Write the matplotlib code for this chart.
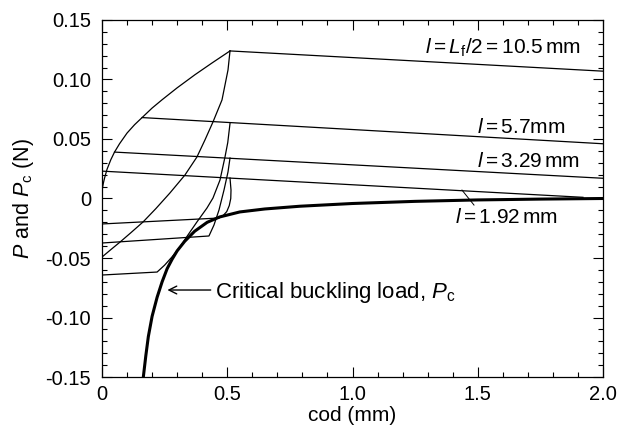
import matplotlib
matplotlib.use("Agg")
import matplotlib.pyplot as plt
from matplotlib.ticker import MultipleLocator

plt.rcParams['font.family'] = ['Liberation Sans', 'DejaVu Sans']
plt.rcParams['mathtext.fontset'] = 'custom'
plt.rcParams['mathtext.rm'] = 'Liberation Sans'
plt.rcParams['mathtext.it'] = 'Liberation Sans:italic'
plt.rcParams['mathtext.bf'] = 'Liberation Sans:bold'

# ---- data (cod in mm, load in N) ----
env_cod = [0.0, 0.002, 0.005, 0.01, 0.02, 0.035, 0.05, 0.07, 0.10, 0.13, 0.16, 0.20, 0.24,
           0.30, 0.371, 0.44, 0.511]
env_P = [0.006, 0.009, 0.0125, 0.017, 0.0245, 0.0325, 0.039, 0.046, 0.055, 0.062, 0.068,
         0.076, 0.083, 0.093, 0.104, 0.114, 0.124]

line105_cod = [0.511, 2.0]
line105_P = [0.124, 0.107]
line57_cod = [0.160, 2.0]
line57_P = [0.068, 0.046]
line329_cod = [0.050, 2.0]
line329_P = [0.039, 0.017]
line192_cod = [0.0, 1.92]
line192_P = [0.023, 0.001]

unl105_cod = [0.511, 0.503, 0.479, 0.443, 0.411, 0.379, 0.331, 0.271, 0.215, 0.164, 0.115, 0.072, 0.035, 0.0]
unl105_P = [0.124, 0.108, 0.0828, 0.0643, 0.0492, 0.0349, 0.0197, 0.0046, -0.0085, -0.0197,
            -0.0288, -0.0366, -0.0430, -0.0492]

unl57_cod = [0.511, 0.502, 0.491, 0.471, 0.443, 0.419, 0.379, 0.343, 0.311, 0.279, 0.250, 0.220, 0.0]
unl57_P = [0.063, 0.047, 0.0349, 0.0155, 0.0004, -0.0080, -0.0197, -0.0307, -0.0408, -0.0492,
           -0.0560, -0.0618, -0.0643]

unl329_cod = [0.511, 0.503, 0.487, 0.467, 0.447, 0.427, 0.0]
unl329_P = [0.034, 0.0223, 0.0071, -0.0097, -0.0223, -0.0315, -0.0374]

unl192_cod = [0.511, 0.515, 0.514, 0.508, 0.498, 0.485, 0.467, 0.0]
unl192_P = [0.0172, 0.0071, 0.0, -0.0060, -0.0110, -0.0140, -0.0164, -0.0214]

pc_cod = [0.165, 0.175, 0.185, 0.20, 0.22, 0.24, 0.26, 0.28, 0.30, 0.33, 0.37, 0.42, 0.47,
          0.55, 0.65, 0.79, 1.0, 1.25, 1.5, 1.75, 2.0]
pc_P = [-0.150, -0.132, -0.116, -0.099, -0.083, -0.070, -0.059, -0.051, -0.044, -0.036,
        -0.0275, -0.020, -0.0155, -0.0113, -0.0088, -0.0065, -0.0042, -0.0024, -0.0012,
        -0.0005, 0.0]

xticks = [0, 0.5, 1.0, 1.5, 2.0]
xtick_labels = ['0', '0.5', '1.0', '1.5', '2.0']
yticks = [-0.15, -0.10, -0.05, 0, 0.05, 0.10, 0.15]
ytick_labels = ['-0.15', '-0.10', '-0.05', '0', '0.05', '0.10', '0.15']

fig = plt.figure(figsize=(6.25, 4.29), dpi=100)
ax = fig.add_axes([0.1632, 0.1212, 0.8016, 0.8322])

thin = dict(color='black', lw=0.9, solid_joinstyle='round')
ax.plot(env_cod, env_P, **thin)
for c, p in [(line105_cod, line105_P), (line57_cod, line57_P),
             (line329_cod, line329_P), (line192_cod, line192_P),
             (unl105_cod, unl105_P), (unl57_cod, unl57_P),
             (unl329_cod, unl329_P), (unl192_cod, unl192_P)]:
    ax.plot(c, p, **thin)
ax.plot(pc_cod, pc_P, color='black', lw=2.2, solid_joinstyle='round')

ax.set_xlim(0, 2.0)
ax.set_ylim(-0.15, 0.15)
ax.set_xticks(xticks)
ax.set_xticklabels(xtick_labels)
ax.set_yticks(yticks)
ax.set_yticklabels(ytick_labels)
ax.xaxis.set_minor_locator(MultipleLocator(0.1))
ax.yaxis.set_minor_locator(MultipleLocator(0.01))
ax.tick_params(which='both', direction='in', top=True, right=True, labelsize=14.5, width=0.8)
ax.tick_params(which='major', length=7)
ax.tick_params(axis='y', which='major', pad=8)
ax.tick_params(axis='x', which='major', pad=6)
ax.tick_params(which='minor', length=3.5)
for s in ax.spines.values():
    s.set_linewidth(0.9)

ax.set_xlabel('cod (mm)', fontsize=15, labelpad=1)
ax.set_ylabel(r'$P$ and $P_\mathrm{c}$ (N)', fontsize=15.5, labelpad=7)

fs = 15
ax.text(1.29, 0.122, r'$l = L_\mathrm{f}/2 = 10.5\,\mathrm{mm}$', fontsize=fs, ha='left', va='baseline')
ax.text(1.497, 0.055, r'$l = 5.7\mathrm{mm}$', fontsize=fs, ha='left', va='baseline')
ax.text(1.497, 0.0265, r'$l = 3.29\,\mathrm{mm}$', fontsize=fs, ha='left', va='baseline')
ax.text(1.41, -0.0206, r'$l = 1.92\,\mathrm{mm}$', fontsize=fs, ha='left', va='baseline')
ax.plot([1.437, 1.485], [0.0071, -0.0055], color='black', lw=0.7)

ax.text(0.451, -0.0836, r'Critical buckling load, $P_\mathrm{c}$', fontsize=16, ha='left', va='baseline')
ax.annotate('', xy=(0.25, -0.0769), xytext=(0.445, -0.0769),
            arrowprops=dict(arrowstyle='->', color='black', lw=1.0, mutation_scale=14))

fig.savefig('out.png', dpi=100)
